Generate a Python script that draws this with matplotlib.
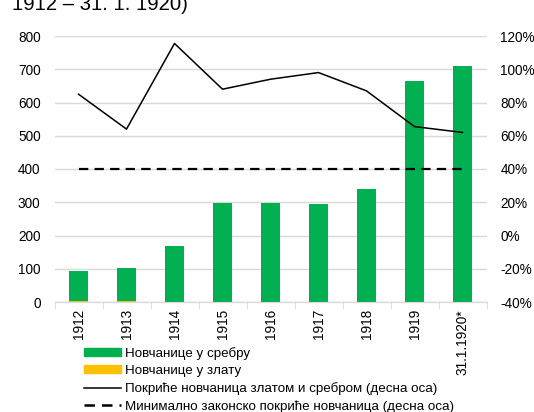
import matplotlib.pyplot as plt
from matplotlib.ticker import FuncFormatter

plt.rcParams['font.family'] = ['Liberation Sans', 'DejaVu Sans']

# podaci
years = ["1912", "1913", "1914", "1915", "1916", "1917", "1918", "1919", "31.1.1920*"]
gold_notes = [4, 2, 1, 1, 1, 1, 1, 1, 1]
silver_notes = [89, 101, 166, 297, 298, 294, 339, 663, 710]
coverage = [85, 64, 115.5, 88, 94, 98, 87, 65.5, 62]
min_coverage = [40, 40, 40, 40, 40, 40, 40, 40, 40]

green = "#00b050"
gold = "#ffc000"
dash = (0, (4.2, 2.8))

fig = plt.figure(figsize=(5.34, 4.12), dpi=100)
ax = fig.add_axes([54.5 / 534, 1 - 302 / 412, 432 / 534, 266 / 412])
ax2 = ax.twinx()

x = range(len(years))
ax.bar(x, gold_notes, width=0.4, color=gold, zorder=3)
ax.bar(x, silver_notes, width=0.4, bottom=gold_notes, color=green, zorder=3)

ax2.plot(x, coverage, color="black", lw=1.1)
ax2.plot(x, min_coverage, color="black", lw=1.6, ls=dash)

ax.set_xlim(-0.5, len(years) - 0.5)
ax.set_ylim(0, 800)
ax.set_yticks(range(0, 801, 100))
ax2.set_ylim(-40, 120)
ax2.set_yticks(range(-40, 121, 20))
ax2.yaxis.set_major_formatter(FuncFormatter(lambda v, p: f"{v:.0f}%"))

ax.grid(axis="y", color="#d9d9d9", lw=1, zorder=0)
ax.set_axisbelow(True)
for a in (ax, ax2):
    for s in ("top", "left", "right"):
        a.spines[s].set_visible(False)
    a.spines["bottom"].set_color("#d9d9d9")
    a.tick_params(axis="y", length=0, labelsize=9.8)

ax.set_xticks(list(x))
ax.set_xticklabels(years, rotation=90, fontsize=9.8)
ax.tick_params(axis="x", length=0, pad=5)
ax.set_xticks([i - 0.5 for i in range(len(years) + 1)], minor=True)
ax.tick_params(axis="x", which="minor", length=5, color="#d9d9d9")
ax.tick_params(axis="y", pad=10)
ax2.tick_params(axis="y", pad=10)

# naslov je odsečen na vrhu, kao u originalu
fig.text(12 / 534, 1 - 10 / 412, "1912 – 31. 1. 1920)", fontsize=14.6, va="baseline")

h_silver = plt.Rectangle((0, 0), 1, 1, color=green)
h_gold = plt.Rectangle((0, 0), 1, 1, color=gold)
h_line = plt.Line2D([], [], color="black", lw=1.1)
h_dash = plt.Line2D([], [], color="black", lw=1.8, ls=dash)
fig.legend([h_silver, h_gold, h_line, h_dash],
           ["Новчанице у сребру", "Новчанице у злату",
            "Покриће новчаница златом и сребром (десна оса)",
            "Минимално законско покриће новчаница (десна оса)"],
           loc="upper left", bbox_to_anchor=(84 / 534, 1 - 347 / 412),
           frameon=False, fontsize=9.6, handlelength=2.8, handleheight=0.5,
           handletextpad=0.3, labelspacing=0.38, borderpad=0, borderaxespad=0)

fig.savefig("out.png", dpi=100)
